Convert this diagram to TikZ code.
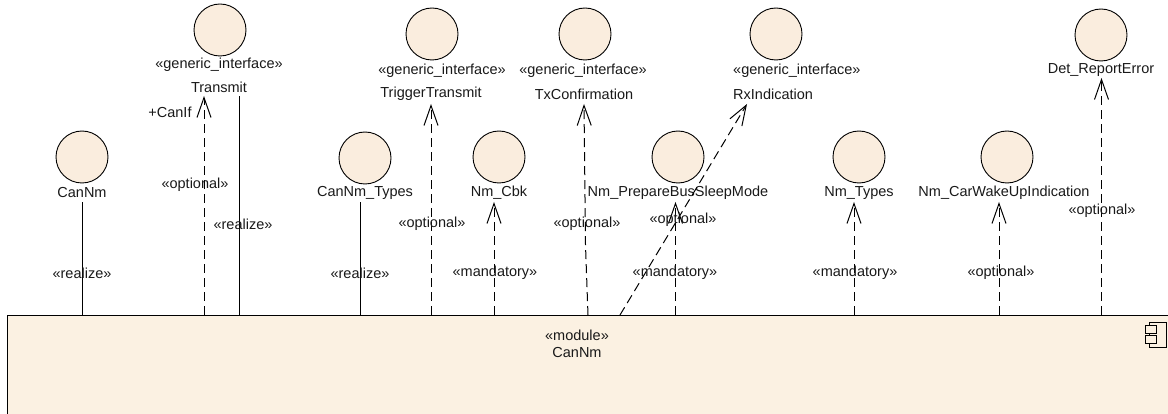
\documentclass[tikz,border=0pt]{standalone}
\usepackage{fontspec}
\setmainfont{Liberation Sans}
\usetikzlibrary{arrows.meta}
\definecolor{boxfill}{RGB}{251,241,226}
\definecolor{circfill}{RGB}{250,237,222}
\definecolor{txt}{RGB}{25,25,25}
\begin{document}
\begin{tikzpicture}[x=1pt,y=-1pt,
  iface/.style={circle, draw=black, fill=circfill, minimum size=52pt, inner sep=0pt, line width=0.9pt},
  lbl/.style={font=\fontsize{14.5}{17}\selectfont, text=txt, inner sep=0pt},
  dep/.style={draw=black, line width=1pt, dash pattern=on 9pt off 5pt, -{Straight Barb[length=20pt,width=14pt,line width=1pt]}},
  dpl/.style={draw=black, line width=1pt, dash pattern=on 9pt off 5pt},
  real/.style={draw=black, line width=1pt}]
\useasboundingbox (0,0) rectangle (1168,414);
% module box
\node[fill=boxfill, inner sep=0pt, minimum width=1175pt, minimum height=98.5pt, anchor=north west] (box) at (7.5,315) {};
\draw[line width=1pt] (box.south west) -- (box.north west) -- (box.north east);
\draw[black!25, line width=0.8pt] (box.south west) -- (box.south east);
\node[lbl] (mst) at (577,335) {«module»};
\node[lbl] (mname) at (577,353) {CanNm};
% component icon
\draw[line width=0.9pt] (1149,322) rectangle (1166,347);
\draw[line width=0.9pt, fill=boxfill] (1145,325) rectangle (1156,333);
\draw[line width=0.9pt, fill=boxfill] (1145,335) rectangle (1156,343);
% interfaces
\node[iface] (cCanNm) at (82,157) {};
\node[lbl] (lCanNm) at (82,193) {CanNm};
\node[iface] (cTransmit) at (220,30) {};
\node[lbl] (sTransmit) at (219,65) {«generic\_interface»};
\node[lbl] (lTransmit) at (219,87) {Transmit};
\node[iface] (cTypes) at (365,158) {};
\node[lbl] (lTypes) at (365,193) {CanNm\_Types};
\node[iface] (cTrig) at (432,34) {};
\node[lbl] (sTrig) at (442,71) {«generic\_interface»};
\node[lbl] (lTrig) at (431,94) {TriggerTransmit};
\node[iface] (cCbk) at (499,157) {};
\node[lbl] (lCbk) at (499,193) {Nm\_Cbk};
\node[iface] (cTx) at (585,34) {};
\node[lbl] (sTx) at (583,71) {«generic\_interface»};
\node[lbl] (lTx) at (584,94) {TxConfirmation};
\node[iface] (cRx) at (776,34) {};
\node[lbl, anchor=west] (sRx) at (733,71) {«generic\_interface»};
\node[lbl, anchor=west] (lRx) at (733,94) {RxIndication};
\node[iface] (cPrep) at (678,157) {};
\node[lbl] (lPrep) at (678,193) {Nm\_PrepareBusSleepMode};
\node[iface] (cNmT) at (859,157) {};
\node[lbl] (lNmT) at (859,193) {Nm\_Types};
\node[iface] (cWake) at (1007,157) {};
\node[lbl] (lWake) at (1004,193) {Nm\_CarWakeUpIndication};
\node[iface] (cDet) at (1101,35) {};
\node[lbl] (lDet) at (1101,70) {Det\_ReportError};
% tip coordinates
\coordinate (tTransmit) at (204,96);
\coordinate (rTransmit) at (239,96);
\coordinate (tTypes) at (360,202);
\coordinate (tCanNm) at (82,202);
\coordinate (tTrig) at (431,104);
\coordinate (tCbk) at (494,202);
\coordinate (tTx) at (584,104);
\coordinate (kTx) at (585.5,245);
\coordinate (tRx) at (747,104);
\coordinate (bRx) at (620,315);
\coordinate (tPrep) at (675.5,202);
\coordinate (tNmT) at (854,202);
\coordinate (tWake) at (999,202);
\coordinate (tDet) at (1101.5,78);
% connectors
\draw[real] (box.north -| tCanNm) -- (tCanNm);
\draw[dep] (box.north -| tTransmit) -- (tTransmit);
\draw[real] (box.north -| rTransmit) -- (rTransmit);
\draw[real] (box.north -| tTypes) -- (tTypes);
\draw[dep] (box.north -| tTrig) -- (tTrig);
\draw[dep] (box.north -| tCbk) -- (tCbk);
\draw[dep] (box.north -| 588,0) -- (kTx) -- (tTx);
\draw[dep] (bRx) -- (tRx);
\draw[dep] (box.north -| tPrep) -- (tPrep);
\draw[dep] (box.north -| tNmT) -- (tNmT);
\draw[dep] (box.north -| tWake) -- (tWake);
\draw[dep] (box.north -| tDet) -- (tDet);
% connector labels
\node[lbl] (a1) at (82,273) {«realize»};
\node[lbl] (a2) at (243,224) {«realize»};
\node[lbl] (a3) at (195,185) {«optional»};
\node[lbl] (a4) at (170,112) {+CanIf};
\node[lbl] (a5) at (360,273) {«realize»};
\node[lbl] (a6) at (432,224) {«optional»};
\node[lbl] (a7) at (495,273) {«mandatory»};
\node[lbl] (a8) at (587,224) {«optional»};
\node[lbl] (a9) at (683,220) {«optional»};
\node[lbl] (a10) at (675,273) {«mandatory»};
\node[lbl] (a11) at (855,273) {«mandatory»};
\node[lbl] (a12) at (1001,273) {«optional»};
\node[lbl] (a13) at (1102,211) {«optional»};
\end{tikzpicture}
\end{document}
